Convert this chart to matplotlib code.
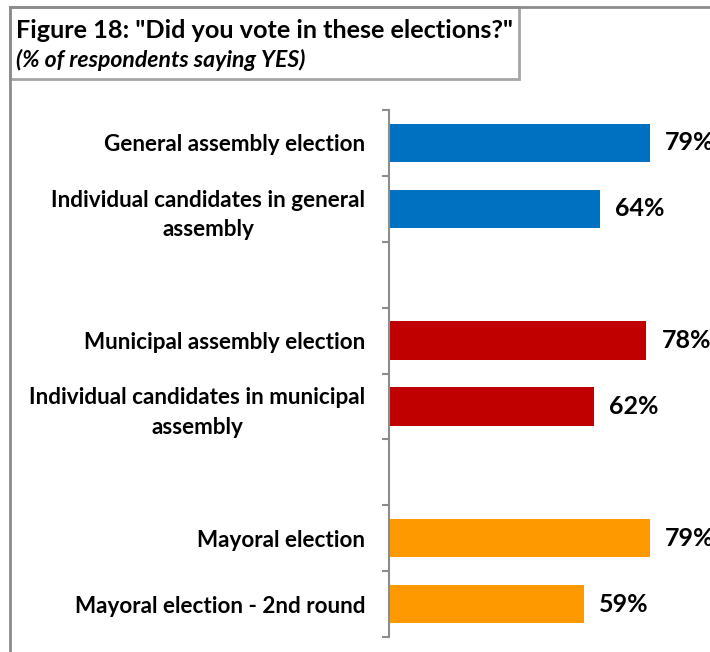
import matplotlib
matplotlib.use("Agg")
import matplotlib.pyplot as plt
from matplotlib.patches import Rectangle
from matplotlib.lines import Line2D

plt.rcParams['font.family'] = ['Lato', 'DejaVu Sans']

# Survey results (% of respondents saying YES); empty strings are spacer rows
categories = [
    "General assembly election",
    "Individual candidates in general\nassembly",
    "",
    "Municipal assembly election",
    "Individual candidates in municipal\nassembly",
    "",
    "Mayoral election",
    "Mayoral election - 2nd round",
]
values = [79, 64, None, 78, 62, None, 79, 59]
colors = ["#0070C0", "#0070C0", None, "#C00000", "#C00000", None, "#FF9900", "#FF9900"]

W, H = 710, 652
fig = plt.figure(figsize=(W / 100, H / 100), dpi=100)

def fx(px):
    return px / W

def fy(py):
    return 1 - py / H

# outer frame and title box
fig.add_artist(Line2D([fx(10), fx(712)], [fy(7), fy(7)], color="#8c8c8c", lw=2))
fig.add_artist(Line2D([fx(10), fx(10)], [fy(7), fy(660)], color="#8c8c8c", lw=2))
fig.add_artist(Rectangle((fx(10), fy(79)), fx(519) - fx(10), fy(7) - fy(79),
                         transform=fig.transFigure, fill=False,
                         edgecolor="#a6a6a6", lw=2))
fig.text(fx(16), fy(30), 'Figure 18: "Did you vote in these elections?"',
         fontsize=18.2, fontweight="bold", va="center", ha="left")
fig.text(fx(16), fy(60), "(% of respondents saying YES)",
         fontsize=16.6, fontweight="bold", fontstyle="italic", va="center", ha="left")

# plot area: axis line at x=389, 100% at x=719, rows from y=110 to y=637
n_slots = len(categories)
ax = fig.add_axes([fx(389), fy(637), fx(719) - fx(389), fy(110) - fy(637)])
ax.set_xlim(0, 100)
ax.set_ylim(n_slots - 0.5, -0.5)

for i, (v, c) in enumerate(zip(values, colors)):
    if v is None:
        continue
    ax.barh(i, v, height=0.58, color=c)
    ax.text(v + 4.6, i, f"{v}%", va="center", ha="left",
            fontsize=18, fontweight="bold", clip_on=False)

ax.set_yticks(range(len(categories)))
ax.set_yticklabels(categories, fontsize=16.2, fontweight="bold")
for lab in ax.get_yticklabels():
    lab.set_multialignment("center")
    lab.set_linespacing(1.5)
ax.tick_params(axis="y", which="major", length=0, pad=17)
ax.set_yticks([k - 0.5 for k in range(n_slots + 1)], minor=True)
ax.tick_params(axis="y", which="minor", length=5, width=1.5, color="#8c8c8c")

ax.set_xticks([])
for s in ("top", "right", "bottom"):
    ax.spines[s].set_visible(False)
ax.spines["left"].set_color("#8c8c8c")
ax.spines["left"].set_linewidth(1.5)

fig.savefig("out.png", dpi=100)
